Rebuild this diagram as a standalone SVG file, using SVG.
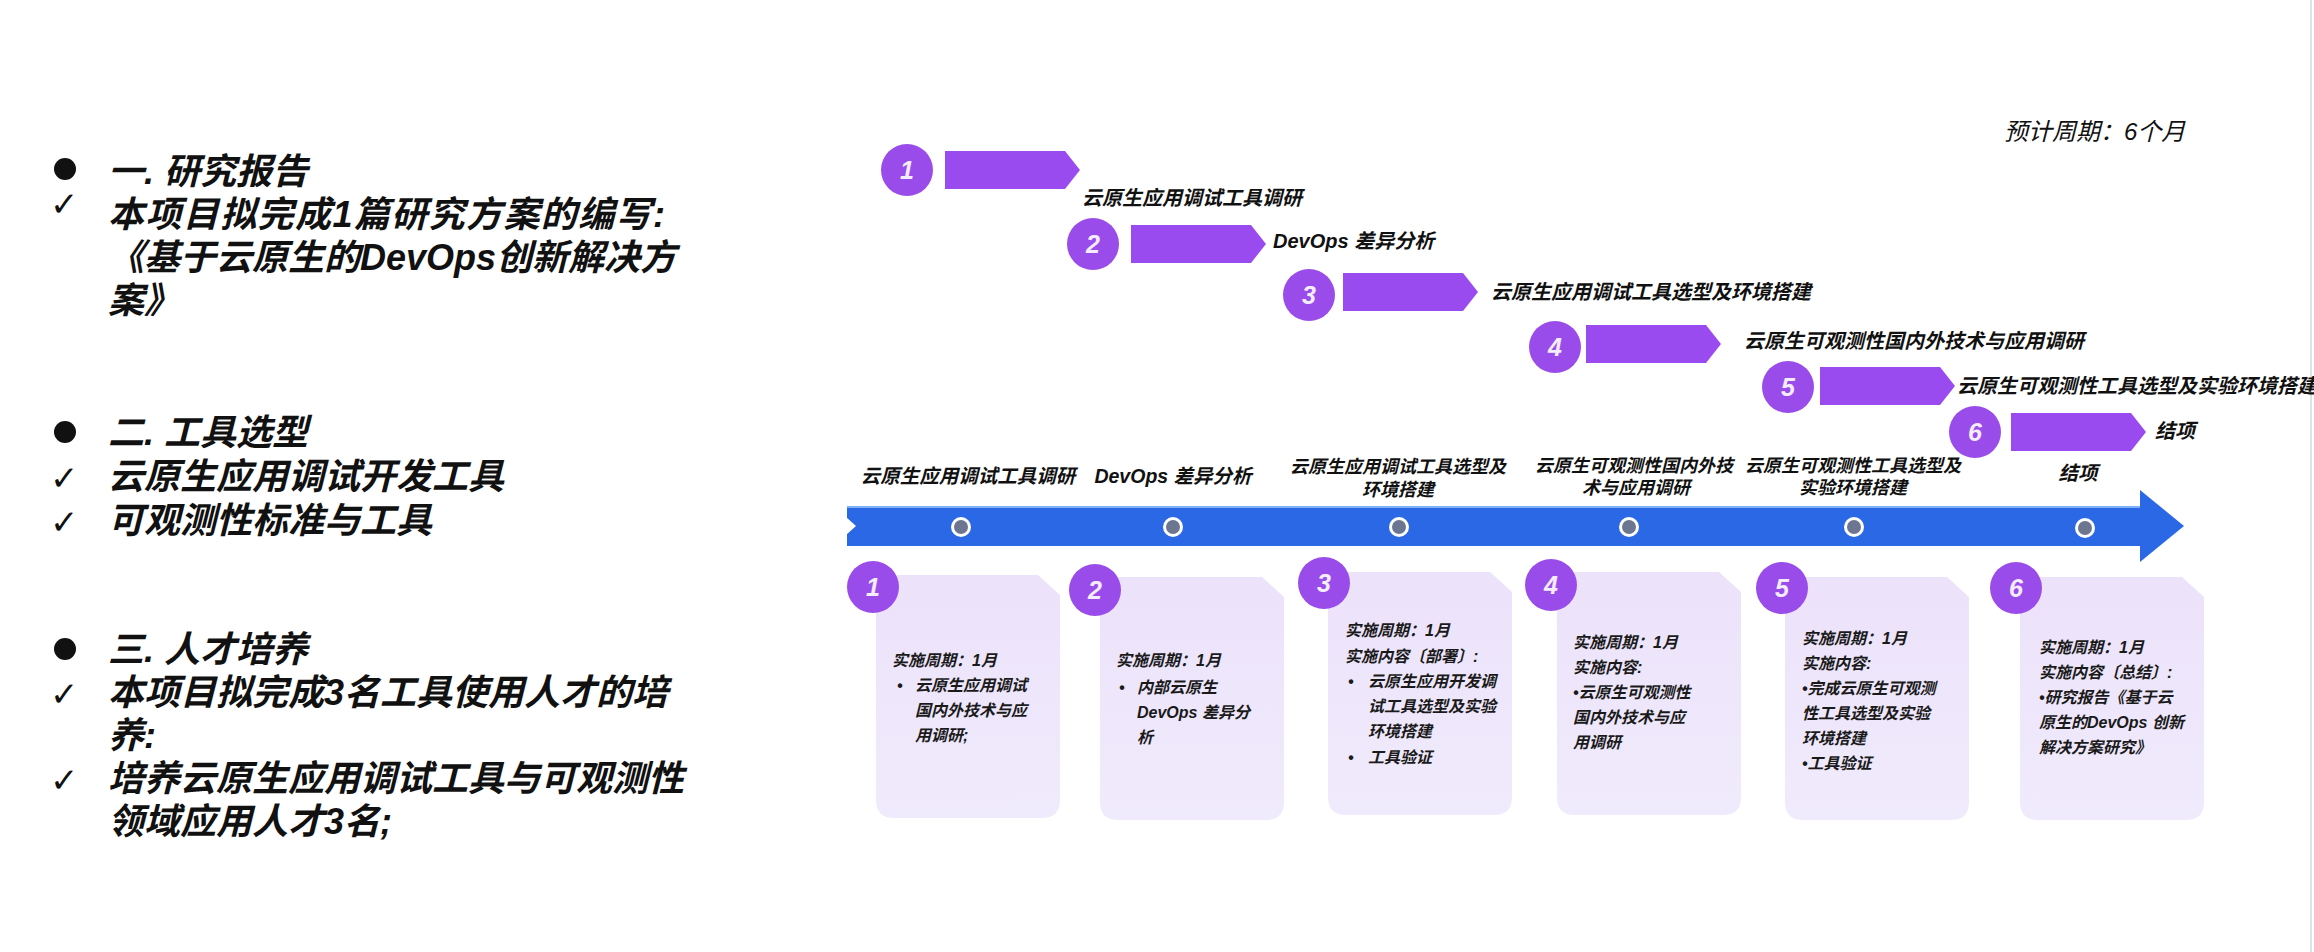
<svg xmlns="http://www.w3.org/2000/svg" xmlns:xlink="http://www.w3.org/1999/xlink" width="2314" height="952" viewBox="0 0 2314 952">
  <defs>
    <style>
      .cjk { font-family: "Liberation Sans", "Noto Sans CJK SC", sans-serif; font-weight: 700; font-style: italic; fill: #111; }
      .left { font-size: 36px; }
      .step-label { font-size: 20px; }
      .bar-label { font-size: 19.5px; text-anchor: middle; }
      .bar-label-sm { font-size: 18px; text-anchor: middle; }
      .card-text { font-size: 16px; fill: #1a1a1a; }
      .num { font-family: "Liberation Sans", "DejaVu Sans", sans-serif; font-weight: 700; font-style: italic; font-size: 25px; fill: #f4ecff; text-anchor: middle; }
      .check { font-family: "DejaVu Sans", sans-serif; font-weight: 700; font-size: 34px; fill: #111; }
      .badge { fill: #9a4cea; }
      .chevron { fill: #9a4bf0; }
      .card { fill: url(#cardFill); }
      .dot-ring { fill: #ffffff; }
      .dot-core { fill: #6d7690; }
    </style>
    <linearGradient id="cardFill" x1="0" y1="0" x2="0" y2="1">
      <stop offset="0" stop-color="#ece2fa"/>
      <stop offset="1" stop-color="#f0ebfc"/>
    </linearGradient>
    <!-- step arrow: rectangle with a pointed right end -->
    <path id="chevron-shape" d="M0,-19 H120 L135,0 L120,19 H0 Z"/>
    <!-- detail card: chamfered top-right corner, rounded bottom corners -->
    <path id="card-shape" d="M8,0 H162 L184,20 V225 Q184,243 166,243 H18 Q0,243 0,225 V8 Q0,0 8,0 Z"/>
  </defs>

  <rect width="2314" height="952" fill="#ffffff"/>
  <line x1="2311" y1="0" x2="2311" y2="952" stroke="#e2e2e2" stroke-width="2"/>

  <!-- left summary -->
  <g id="section-report">
    <circle cx="65" cy="169" r="11" fill="#111"/>
    <text class="cjk left" x="108" y="184">一. 研究报告</text>
    <text class="check" x="50" y="216">✓</text>
    <text class="cjk left" x="108" y="227" letter-spacing="1.4">本项目拟完成1篇研究方案的编写:</text>
    <text class="cjk left" x="108" y="270">《基于云原生的DevOps创新解决方</text>
    <text class="cjk left" x="108" y="313">案》</text>
  </g>
  <g id="section-tools">
    <circle cx="65" cy="432" r="11" fill="#111"/>
    <text class="cjk left" x="108" y="445">二. 工具选型</text>
    <text class="check" x="50" y="490">✓</text>
    <text class="cjk left" x="108" y="489">云原生应用调试开发工具</text>
    <text class="check" x="50" y="534">✓</text>
    <text class="cjk left" x="108" y="533">可观测性标准与工具</text>
  </g>
  <g id="section-talent">
    <circle cx="65" cy="649" r="11" fill="#111"/>
    <text class="cjk left" x="108" y="662">三. 人才培养</text>
    <text class="check" x="50" y="706">✓</text>
    <text class="cjk left" x="108" y="705">本项目拟完成3名工具使用人才的培</text>
    <text class="cjk left" x="108" y="748">养:</text>
    <text class="check" x="50" y="792">✓</text>
    <text class="cjk left" x="108" y="791">培养云原生应用调试工具与可观测性</text>
    <text class="cjk left" x="108" y="834">领域应用人才3名;</text>
  </g>

  <!-- schedule headline -->
  <g id="duration">
    <text x="2004" y="140" font-family="Liberation Sans, Noto Sans CJK SC, sans-serif" font-style="italic" font-size="24" fill="#111">预计周期：6个月</text>
  </g>

  <!-- staircase of steps -->
  <g id="step-1">
    <circle class="badge" cx="907" cy="170" r="26"/>
    <text class="num" x="907" y="179">1</text>
    <use href="#chevron-shape" class="chevron" x="945" y="170"/>
    <text class="cjk step-label" x="1082" y="205">云原生应用调试工具调研</text>
  </g>
  <g id="step-2">
    <circle class="badge" cx="1093" cy="244" r="26"/>
    <text class="num" x="1093" y="253">2</text>
    <use href="#chevron-shape" class="chevron" x="1131" y="244"/>
    <text class="cjk step-label" x="1273" y="248">DevOps 差异分析</text>
  </g>
  <g id="step-3">
    <circle class="badge" cx="1309" cy="295" r="26"/>
    <text class="num" x="1309" y="304">3</text>
    <use href="#chevron-shape" class="chevron" x="1343" y="292"/>
    <text class="cjk step-label" x="1491" y="299">云原生应用调试工具选型及环境搭建</text>
  </g>
  <g id="step-4">
    <circle class="badge" cx="1555" cy="347" r="26"/>
    <text class="num" x="1555" y="356">4</text>
    <use href="#chevron-shape" class="chevron" x="1586" y="344"/>
    <text class="cjk step-label" x="1744" y="348">云原生可观测性国内外技术与应用调研</text>
  </g>
  <g id="step-5">
    <circle class="badge" cx="1788" cy="387" r="26"/>
    <text class="num" x="1788" y="396">5</text>
    <use href="#chevron-shape" class="chevron" x="1820" y="386"/>
    <text class="cjk step-label" x="1957" y="393">云原生可观测性工具选型及实验环境搭建</text>
  </g>
  <g id="step-6">
    <circle class="badge" cx="1975" cy="432" r="26"/>
    <text class="num" x="1975" y="441">6</text>
    <use href="#chevron-shape" class="chevron" x="2011" y="432"/>
    <text class="cjk step-label" x="2155" y="438">结项</text>
  </g>

  <!-- timeline arrow -->
  <g id="connectors">
    <rect x="847" y="506" width="1294" height="40" fill="#2a68e6"/>
    <line x1="847" y1="507" x2="2141" y2="507" stroke="#7eb0f5" stroke-width="2"/>
    <polygon points="2140,490 2184,526 2140,562" fill="#2a68e6"/>
    <polygon points="846,517 856,526 846,535" fill="#ffffff"/>
  </g>

  <!-- milestones on the timeline -->
  <g id="milestone-1">
    <text class="cjk bar-label" x="968" y="483">云原生应用调试工具调研</text>
    <circle class="dot-ring" cx="961" cy="527" r="10"/>
    <circle class="dot-core" cx="961" cy="527" r="7"/>
  </g>
  <g id="milestone-2">
    <text class="cjk bar-label" x="1173" y="483">DevOps 差异分析</text>
    <circle class="dot-ring" cx="1173" cy="527" r="10"/>
    <circle class="dot-core" cx="1173" cy="527" r="7"/>
  </g>
  <g id="milestone-3">
    <text class="cjk bar-label-sm" x="1398" y="473">云原生应用调试工具选型及</text>
    <text class="cjk bar-label-sm" x="1398" y="496">环境搭建</text>
    <circle class="dot-ring" cx="1399" cy="527" r="10"/>
    <circle class="dot-core" cx="1399" cy="527" r="7"/>
  </g>
  <g id="milestone-4">
    <text class="cjk bar-label-sm" x="1634" y="472">云原生可观测性国内外技</text>
    <text class="cjk bar-label-sm" x="1636" y="494">术与应用调研</text>
    <circle class="dot-ring" cx="1629" cy="527" r="10"/>
    <circle class="dot-core" cx="1629" cy="527" r="7"/>
  </g>
  <g id="milestone-5">
    <text class="cjk bar-label-sm" x="1853" y="472">云原生可观测性工具选型及</text>
    <text class="cjk bar-label-sm" x="1853" y="494">实验环境搭建</text>
    <circle class="dot-ring" cx="1854" cy="527" r="10"/>
    <circle class="dot-core" cx="1854" cy="527" r="7"/>
  </g>
  <g id="milestone-6">
    <text class="cjk bar-label" x="2078" y="480">结项</text>
    <circle class="dot-ring" cx="2085" cy="528" r="10"/>
    <circle class="dot-core" cx="2085" cy="528" r="7"/>
  </g>

  <!-- detail cards -->
  <g id="card-1">
    <use href="#card-shape" class="card" x="876" y="575"/>
    <circle class="badge" cx="873" cy="587" r="26"/>
    <text class="num" x="873" y="596">1</text>
    <text class="cjk card-text" x="892" y="666">实施周期：1月</text>
    <text class="cjk card-text" x="897" y="691">•</text>
    <text class="cjk card-text" x="915" y="691">云原生应用调试</text>
    <text class="cjk card-text" x="915" y="716">国内外技术与应</text>
    <text class="cjk card-text" x="915" y="741">用调研;</text>
  </g>
  <g id="card-2">
    <use href="#card-shape" class="card" x="1100" y="577"/>
    <circle class="badge" cx="1095" cy="590" r="26"/>
    <text class="num" x="1095" y="599">2</text>
    <text class="cjk card-text" x="1116" y="666">实施周期：1月</text>
    <text class="cjk card-text" x="1119" y="693">•</text>
    <text class="cjk card-text" x="1137" y="693">内部云原生</text>
    <text class="cjk card-text" x="1137" y="718">DevOps 差异分</text>
    <text class="cjk card-text" x="1137" y="743">析</text>
  </g>
  <g id="card-3">
    <use href="#card-shape" class="card" x="1328" y="572"/>
    <circle class="badge" cx="1324" cy="583" r="26"/>
    <text class="num" x="1324" y="592">3</text>
    <text class="cjk card-text" x="1345" y="636">实施周期：1月</text>
    <text class="cjk card-text" x="1345" y="662">实施内容〔部署〕:</text>
    <text class="cjk card-text" x="1348" y="687">•</text>
    <text class="cjk card-text" x="1368" y="687">云原生应用开发调</text>
    <text class="cjk card-text" x="1368" y="712">试工具选型及实验</text>
    <text class="cjk card-text" x="1368" y="737">环境搭建</text>
    <text class="cjk card-text" x="1348" y="763">•</text>
    <text class="cjk card-text" x="1368" y="763">工具验证</text>
  </g>
  <g id="card-4">
    <use href="#card-shape" class="card" x="1557" y="572"/>
    <circle class="badge" cx="1551" cy="585" r="26"/>
    <text class="num" x="1551" y="594">4</text>
    <text class="cjk card-text" x="1573" y="648">实施周期：1月</text>
    <text class="cjk card-text" x="1573" y="673">实施内容:</text>
    <text class="cjk card-text" x="1573" y="698">•云原生可观测性</text>
    <text class="cjk card-text" x="1573" y="723">国内外技术与应</text>
    <text class="cjk card-text" x="1573" y="748">用调研</text>
  </g>
  <g id="card-5">
    <use href="#card-shape" class="card" x="1785" y="577"/>
    <circle class="badge" cx="1782" cy="588" r="26"/>
    <text class="num" x="1782" y="597">5</text>
    <text class="cjk card-text" x="1802" y="644">实施周期：1月</text>
    <text class="cjk card-text" x="1802" y="669">实施内容:</text>
    <text class="cjk card-text" x="1802" y="694">•完成云原生可观测</text>
    <text class="cjk card-text" x="1802" y="719">性工具选型及实验</text>
    <text class="cjk card-text" x="1802" y="744">环境搭建</text>
    <text class="cjk card-text" x="1802" y="769">•工具验证</text>
  </g>
  <g id="card-6">
    <use href="#card-shape" class="card" x="2020" y="577"/>
    <circle class="badge" cx="2016" cy="588" r="26"/>
    <text class="num" x="2016" y="597">6</text>
    <text class="cjk card-text" x="2039" y="653">实施周期：1月</text>
    <text class="cjk card-text" x="2039" y="678">实施内容〔总结〕:</text>
    <text class="cjk card-text" x="2039" y="703">•研究报告《基于云</text>
    <text class="cjk card-text" x="2039" y="728">原生的DevOps 创新</text>
    <text class="cjk card-text" x="2039" y="753">解决方案研究》</text>
  </g>
</svg>
